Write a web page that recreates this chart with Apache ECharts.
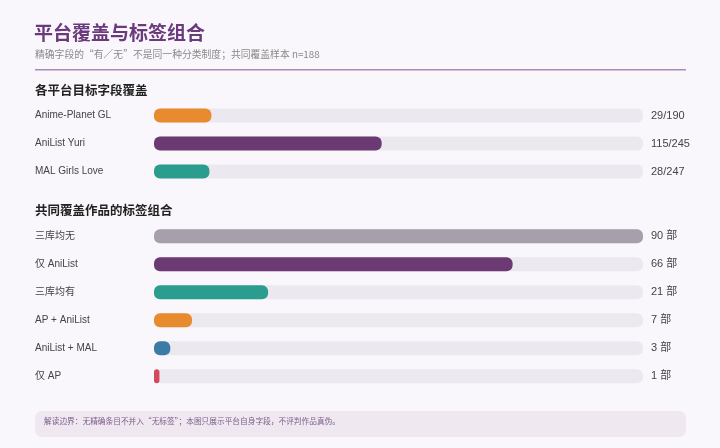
<!DOCTYPE html>
<html><head><meta charset="utf-8">
<script src="https://cdn.jsdelivr.net/npm/echarts@6/dist/echarts.min.js"></script>
<style>html,body{margin:0;padding:0;background:#f9f7fb;}#c{width:720px;height:448px;}</style>
</head><body><div id="c"></div>
<script>
const platforms = ['Anime-Planet GL', 'AniList Yuri', 'MAL Girls Love'];
const platformHits = [29, 115, 28];
const platformTotals = [190, 245, 247];
const platformColors = ['#e88b2e', '#6b3a73', '#2a9d8f'];

const combos = ['三库均无', '仅 AniList', '三库均有', 'AP + AniList', 'AniList + MAL', '仅 AP'];
const comboCounts = [90, 66, 21, 7, 3, 1];
const comboColors = ['#a89fac', '#6b3a73', '#2a9d8f', '#e88b2e', '#3a7ca5', '#d1495b'];

const FONT = '"Liberation Sans", "Noto Sans CJK SC", sans-serif';
const CJK = '"Noto Sans CJK SC", sans-serif';
const chart = echarts.init(document.getElementById('c'));
const catAxis = (grid, data, pos) => ({
  type: 'category', gridIndex: grid, data: data, inverse: true, position: pos,
  axisLine: {show: false}, axisTick: {show: false}, splitLine: {show: false},
  axisLabel: pos === 'left'
    ? {align: 'left', margin: 119, color: '#444', fontSize: 10, fontFamily: FONT, padding: [0, 0, 2, 0]}
    : {align: 'left', margin: 8, color: '#444', fontSize: 11, fontFamily: FONT, padding: [0, 0, 2, 0]}
});
const barSeries = (idx, vals, cols) => ({
  type: 'bar', xAxisIndex: idx, yAxisIndex: idx * 2, barWidth: 14,
  showBackground: true,
  backgroundStyle: {color: '#ece8ef', borderRadius: 6},
  data: vals.map((v, i) => ({value: v, itemStyle: {color: cols[i], borderRadius: 6}})),
  silent: true, animation: false
});
chart.setOption({
  backgroundColor: '#f9f7fb',
  animation: false,
  grid: [
    {left: 154, right: 77, top: 101.5, height: 84},
    {left: 154, right: 77, top: 222.3, height: 168}
  ],
  xAxis: [
    {type: 'value', gridIndex: 0, min: 0, max: Math.max(...platformTotals), show: false},
    {type: 'value', gridIndex: 1, min: 0, max: Math.max(...comboCounts), show: false}
  ],
  yAxis: [
    catAxis(0, platforms, 'left'),
    catAxis(0, platformHits.map((h, i) => h + '/' + platformTotals[i]), 'right'),
    catAxis(1, combos, 'left'),
    catAxis(1, comboCounts.map(c => c + ' 部'), 'right')
  ],
  series: [
    barSeries(0, platformHits, platformColors),
    barSeries(1, comboCounts, comboColors)
  ],
  graphic: [
    {type: 'text', left: 34, top: 23, style: {text: '平台覆盖与标签组合', fill: '#6b3a7d', font: 'bold 19px ' + CJK}},
    {type: 'text', left: 35, top: 49, style: {text: '精确字段的“有／无”不是同一种分类制度；共同覆盖样本 n=188', fill: '#8a8a8a', font: '9.8px ' + CJK}},
    {type: 'rect', shape: {x: 35, y: 69, width: 651, height: 1.5}, style: {fill: '#a98bb8'}},
    {type: 'text', left: 35, top: 84, style: {text: '各平台目标字段覆盖', fill: '#222', font: 'bold 12.5px ' + CJK}},
    {type: 'text', left: 35, top: 204, style: {text: '共同覆盖作品的标签组合', fill: '#222', font: 'bold 12.5px ' + CJK}},
    {type: 'rect', shape: {x: 35, y: 411, width: 651, height: 26, r: 7}, style: {fill: '#efe8f0'}},
    {type: 'text', left: 44, top: 417, style: {text: '解读边界：无精确条目不并入“无标签”；本图只展示平台自身字段，不评判作品真伪。', fill: '#7d5c8a', font: '7.7px ' + CJK}}
  ]
});
</script></body></html>
